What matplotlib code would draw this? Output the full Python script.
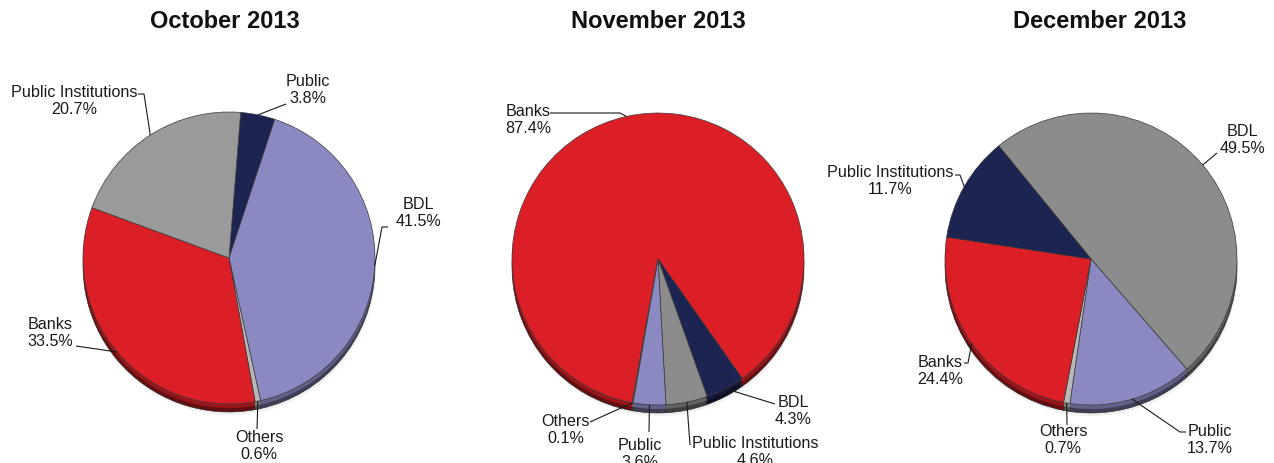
import numpy as np
import matplotlib
matplotlib.use("Agg")
import matplotlib.pyplot as plt
from matplotlib.colors import to_rgb

plt.rcParams['font.family'] = ['Liberation Sans', 'DejaVu Sans']

W, H = 1274, 464

# ---- data -----------------------------------------------------------------
titles = ["October 2013", "November 2013", "December 2013"]

oct_labels = ["Public", "BDL", "Others", "Banks", "Public Institutions"]
oct_values = [3.8, 41.5, 0.6, 33.5, 20.7]

nov_labels = ["Banks", "BDL", "Public Institutions", "Public", "Others"]
nov_values = [87.4, 4.3, 4.6, 3.6, 0.1]

dec_labels = ["BDL", "Public", "Others", "Banks", "Public Institutions"]
dec_values = [49.5, 13.7, 0.7, 24.4, 11.7]

# ---- styling ----------------------------------------------------------------
NAVY = "#1c2452"
LAV = "#8a89c2"
LGRAY = "#b8b8b8"
RED = "#dc1f26"
GRAY_A = "#9a9a9a"
GRAY_B = "#8c8c8c"

oct_colors = [NAVY, LAV, LGRAY, RED, GRAY_A]
nov_colors = [RED, NAVY, GRAY_B, LAV, LGRAY]
dec_colors = [GRAY_B, LAV, LGRAY, RED, NAVY]

R = 146          # pie radius in pixels
DEPTH = 8        # thickness of the pie side in pixels

# pie centres (pixel x, pixel y from top) and start angles (degrees)
pies = [
    dict(title=titles[0], labels=oct_labels, values=oct_values, colors=oct_colors,
         center=(229, 259), start=85.4, title_x=225),
    dict(title=titles[1], labels=nov_labels, values=nov_values, colors=nov_colors,
         center=(658, 260), start=-100.2, title_x=658),
    dict(title=titles[2], labels=dec_labels, values=dec_values, colors=dec_colors,
         center=(1091, 260), start=-230.8, title_x=1100),
]

# label placement: text centre, then leader polyline points after the rim point
label_layout = {
    0: {
        "Public": ((308, 90), [(286, 105)]),
        "BDL": ((418, 213), [(382, 228), (388, 228)]),
        "Others": ((259, 446), [(257, 430)]),
        "Banks": ((50, 333), [(76, 347)]),
        "Public Institutions": ((74, 101), [(144, 95), (138, 95)]),
    },
    1: {
        "Banks": ((528, 120), [(620, 114), (550, 114)]),
        "Others": ((566, 430), [(590, 423)]),
        "Public": ((640, 454), [(649, 433)]),
        "Public Institutions": ((755, 452), [(690, 446)]),
        "BDL": ((793, 411), [(775, 405)]),
    },
    2: {
        "BDL": ((1242, 140), [(1217, 154)]),
        "Public": ((1210, 440), [(1180, 433), (1186, 433)]),
        "Others": ((1063, 440), [(1067, 426)]),
        "Banks": ((940, 371), [(968, 364), (964, 364)]),
        "Public Institutions": ((890, 181), [(960, 176), (955, 176)]),
    },
}


def yd(y_pix):
    """Convert a pixel row (from top) to data y (upwards)."""
    return H - y_pix


def darken(c, f):
    r, g, b = to_rgb(c)
    return (r * f, g * f, b * f)


fig = plt.figure(figsize=(W / 100, H / 100), dpi=100)
ax = fig.add_axes([0, 0, 1, 1])

for i, p in enumerate(pies):
    cx, cy = p["center"]
    vals = p["values"]

    # soft drop shadow
    ax.pie(vals, colors=["#000000"] * len(vals), startangle=p["start"],
           counterclock=False, radius=R, center=(cx + 1, yd(cy) - DEPTH - 3),
           wedgeprops=dict(linewidth=0, alpha=0.06))
    # side of the pie
    ax.pie(vals, colors=[darken(c, 0.45) for c in p["colors"]],
           startangle=p["start"], counterclock=False, radius=R,
           center=(cx, yd(cy) - DEPTH),
           wedgeprops=dict(edgecolor="#222222", linewidth=0.4))
    ax.pie(vals, colors=[darken(c, 0.7) for c in p["colors"]],
           startangle=p["start"], counterclock=False, radius=R,
           center=(cx, yd(cy) - DEPTH / 2),
           wedgeprops=dict(linewidth=0))
    # top surface
    ax.pie(vals, colors=p["colors"], startangle=p["start"], counterclock=False,
           radius=R, center=(cx, yd(cy)),
           wedgeprops=dict(edgecolor="#3a3a3a", linewidth=0.5))

    # labels with leader lines
    total = sum(vals)
    acc = 0.0
    for lab, v in zip(p["labels"], vals):
        mid = p["start"] - 360.0 * (acc + v / 2) / total
        acc += v
        th = np.deg2rad(mid)
        x0 = cx + R * np.cos(th)
        y0 = yd(cy) + R * np.sin(th)
        (tx, ty), pts = label_layout[i][lab]
        xs = [x0] + [q[0] for q in pts]
        ys = [y0] + [yd(q[1]) for q in pts]
        ax.plot(xs, ys, color="#1a1a1a", lw=0.8, solid_capstyle="butt", zorder=5)
        pct = f"{v:.1f}%"
        ax.text(tx, yd(ty), f"{lab}\n{pct}", ha="center", va="center",
                fontsize=11.6, linespacing=1.2, color="#1a1a1a", zorder=6)

    ax.text(p["title_x"], yd(22), p["title"], ha="center", va="center",
            fontsize=17, fontweight="bold", color="#111111")

ax.set_xlim(0, W)
ax.set_ylim(0, H)
ax.set_aspect("auto")
ax.axis("off")

fig.savefig("out.png", dpi=100)
